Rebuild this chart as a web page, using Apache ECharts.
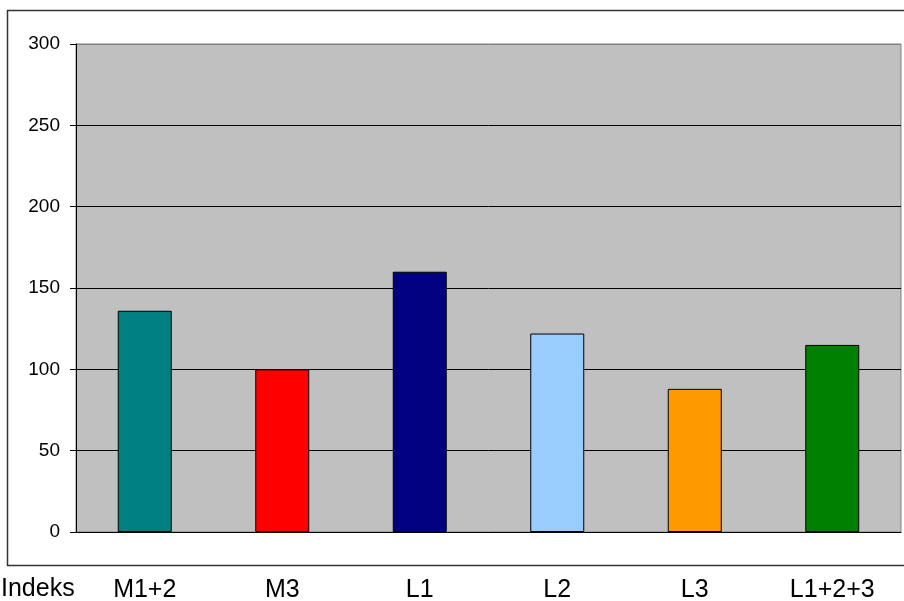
<!DOCTYPE html>
<html>
<head>
<meta charset="utf-8">
<script src="https://cdn.jsdelivr.net/npm/echarts@6/dist/echarts.min.js"></script>
<style>html,body{margin:0;padding:0;background:#fff}#c{width:904px;height:601px}</style>
</head>
<body>
<div id="c"></div>
<script>
const categories = ['M1+2', 'M3', 'L1', 'L2', 'L3', 'L1+2+3'];
const values = [136, 100, 160, 122, 88, 115];
const barColors = ['#008080', '#FF0000', '#000080', '#99CCFF', '#FF9900', '#008000'];
const axisTitle = 'Indeks';
const yMin = 0, yMax = 300, yStep = 50;

const chart = echarts.init(document.getElementById('c'), null, {renderer: 'canvas'});
const font = '"Liberation Sans", Arial, sans-serif';
chart.setOption({
  animation: false,
  backgroundColor: '#fff',
  grid: {left: 76, right: 3, top: 44, bottom: 69, outerBoundsMode: 'none', containLabel: false, show: true, backgroundColor: '#C0C0C0', borderColor: '#808080', borderWidth: 1},
  xAxis: {
    type: 'category', data: categories,
    axisLine: {lineStyle: {color: '#000', width: 1}},
    axisTick: {show: false},
    axisLabel: {color: '#000', fontSize: 25, fontFamily: font, margin: 46}
  },
  yAxis: {
    type: 'value', min: yMin, max: yMax, interval: yStep,
    axisLine: {show: true, lineStyle: {color: '#000', width: 1}},
    axisTick: {show: true, length: 6, lineStyle: {color: '#000'}},
    axisLabel: {color: '#000', fontSize: 19, fontFamily: font, margin: 16},
    splitLine: {show: true, lineStyle: {color: ['#000', '#000', '#000', '#000', '#000', '#000', '#808080'], width: 1}}
  },
  graphic: [
    {type: 'rect', shape: {x: 7.5, y: 10.5, width: 1000, height: 555}, style: {fill: 'none', stroke: '#333', lineWidth: 1.5}, silent: true, z: 100},
    {type: 'text', left: 1, top: 577, style: {text: axisTitle, font: '25px ' + font, fill: '#000'}}
  ],
  series: [{
    type: 'bar',
    barWidth: 54,
    data: values.map((v, i) => ({value: v, itemStyle: {color: barColors[i]}})),
    itemStyle: {borderColor: '#000', borderWidth: 1}
  }]
});
</script>
</body>
</html>
